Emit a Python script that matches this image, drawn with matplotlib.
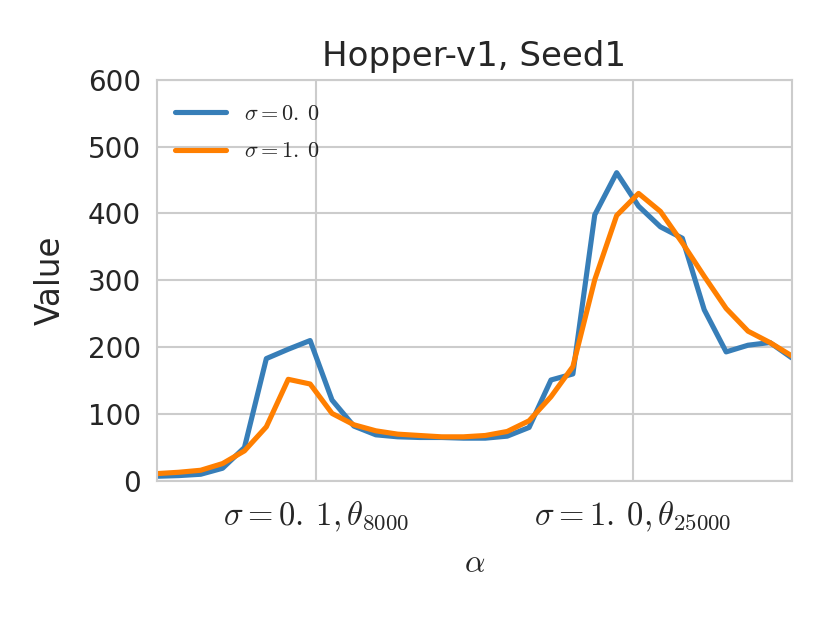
import numpy as np
import seaborn as sns
from matplotlib import pyplot as plt

# Данные

alpha = np.linspace(-0.5, 1.5, 30)

value_sigma0 = [7, 8, 10, 19, 50, 183, 197, 210, 121, 82,
                69, 66, 65, 65, 64, 64, 67, 80, 151, 160,
                398, 461, 411, 380, 363, 256, 193, 203, 207, 184]
value_sigma1 = [11, 13, 16, 26, 45, 81, 152, 145, 101, 84,
                75, 70, 68, 66, 66, 68, 74, 90, 126, 171,
                301, 397, 430, 403, 356, 306, 258, 224, 207, 187]

series_labels = [r'$\sigma=0.\:0$', r'$\sigma=1.\:0$']
tick_pos = [0.0, 1.0]
tick_labels = [r'$\sigma=0.\:1,\theta_{8000}$', r'$\sigma=1.\:0,\theta_{25000}$']

sns.set_style('whitegrid')
plt.rcParams['font.family'] = ['DejaVu Sans']
plt.rcParams['mathtext.fontset'] = 'cm'

fig = plt.figure(figsize=(8.3, 6.23), dpi=100)
ax = fig.add_axes([0.189, 0.228, 0.765, 0.644])

ax.plot(alpha, value_sigma0, color='#377eb8', lw=3.7, label=series_labels[0])
ax.plot(alpha, value_sigma1, color='#ff7f00', lw=3.7, label=series_labels[1])

ax.set_xlim(alpha[0], alpha[-1])
ax.set_ylim(0, 600)
ax.set_xticks(tick_pos)
ax.set_xticklabels(tick_labels, fontsize=23.5)
ax.tick_params(axis='y', labelsize=20, pad=8)
ax.tick_params(axis='x', pad=10)

for s in ax.spines.values():
    s.set_color('#cccccc')
    s.set_linewidth(1.5)
ax.grid(color='#cccccc', lw=1.5)

ax.set_title('Hopper-v1, Seed1', fontsize=24.5, pad=10)
ax.set_ylabel('Value', fontsize=23.5, labelpad=15)
ax.set_xlabel(r'$\alpha$', fontsize=23, labelpad=10)
ax.legend(loc='upper left', frameon=False, fontsize=16, handlelength=2.3,
          borderaxespad=0.4, labelspacing=0.8, bbox_to_anchor=(0.0, 0.985))

fig.savefig('out.png', dpi=100)
